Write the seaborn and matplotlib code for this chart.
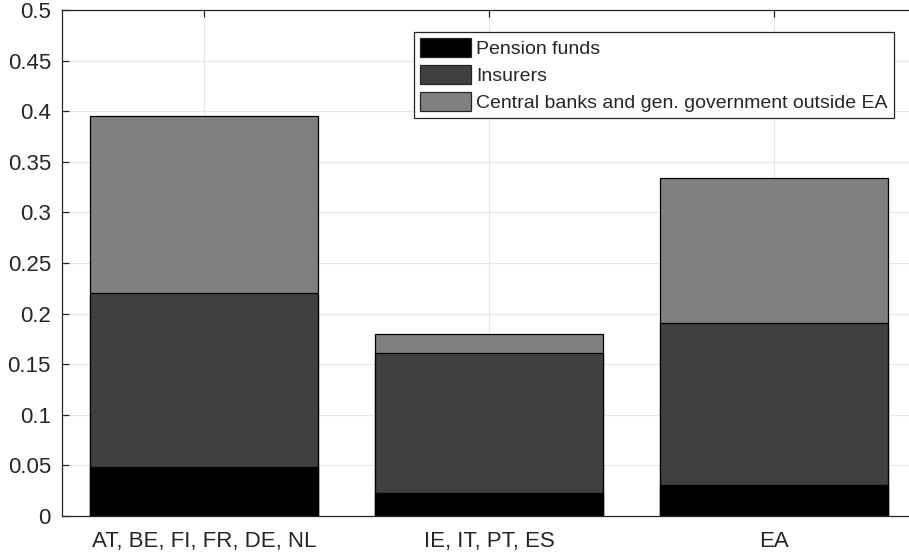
import matplotlib
matplotlib.use("Agg")
import matplotlib.pyplot as plt
import seaborn as sns
import pandas as pd
import numpy as np

regions = ["AT, BE, FI, FR, DE, NL", "IE, IT, PT, ES", "EA"]
pension_funds = [0.048, 0.023, 0.031]
insurers = [0.172, 0.138, 0.160]
central_banks_gov = [0.175, 0.019, 0.143]

series_names = ["Pension funds", "Insurers", "Central banks and gen. government outside EA"]
series_colors = ["#000000", "#404040", "#808080"]
y_ticks = [0, 0.05, 0.1, 0.15, 0.2, 0.25, 0.3, 0.35, 0.4, 0.45, 0.5]
y_tick_labels = ["0", "0.05", "0.1", "0.15", "0.2", "0.25", "0.3", "0.35", "0.4", "0.45", "0.5"]

sns.set_theme(style="white")
plt.rcParams["font.family"] = ["Liberation Sans", "DejaVu Sans"]

layers = np.array([pension_funds, insurers, central_banks_gov])
cumulative = np.cumsum(layers, axis=0)

fig = plt.figure(figsize=(9.09, 5.56), dpi=100)
ax = fig.add_axes([62 / 909, 40 / 556, 854 / 909, 506 / 556])

# Stacked bars: draw the cumulative totals from the top layer down
for i in range(len(series_names) - 1, -1, -1):
    df = pd.DataFrame({"region": regions, "value": cumulative[i]})
    sns.barplot(data=df, x="region", y="value", color=series_colors[i],
                saturation=1, width=0.8, edgecolor="black", linewidth=0.9,
                ax=ax, zorder=2)

ax.set_xlim(-0.5, 2.5)
ax.set_ylim(0, 0.5)
ax.set_yticks(y_ticks)
ax.set_yticklabels(y_tick_labels)
ax.set_xlabel("")
ax.set_ylabel("")

ax.grid(True, color="#e6e6e6", linewidth=0.8, zorder=0)
ax.set_axisbelow(True)
for s in ax.spines.values():
    s.set_visible(True)
    s.set_color("#262626")
    s.set_linewidth(0.9)

ax.tick_params(axis="both", which="both", direction="in", length=5, width=0.9,
               color="#262626", labelcolor="#262626", labelsize=16,
               top=True, right=True, bottom=True, left=True)
ax.tick_params(axis="x", pad=11)
ax.tick_params(axis="y", pad=8)

handles = [matplotlib.patches.Patch(facecolor=c, edgecolor="#262626", linewidth=0.9)
           for c in series_colors]
leg = ax.legend(handles, series_names, loc="upper right",
                bbox_to_anchor=(0.974, 0.957), borderaxespad=0, fontsize=14,
                fancybox=False, framealpha=1, edgecolor="#262626",
                handlelength=2.6, handleheight=1.15, labelspacing=0.35,
                handletextpad=0.3, borderpad=0.3)
leg.get_frame().set_linewidth(0.9)

fig.savefig("out.png", dpi=100)
